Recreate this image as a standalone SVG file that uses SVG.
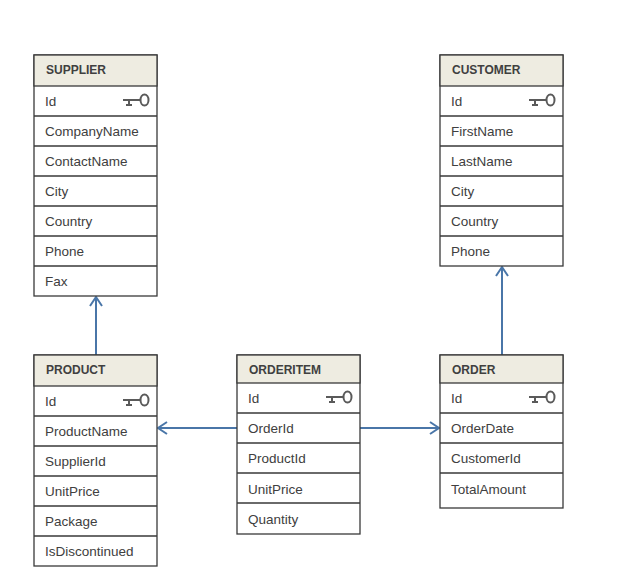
<svg xmlns="http://www.w3.org/2000/svg" width="624" height="577" viewBox="0 0 624 577">
<defs>
<style>
.box{fill:#ffffff;stroke:#3a3a3a;stroke-width:1.3}
.hdr{fill:#eeece1;stroke:#3a3a3a;stroke-width:1.3}
.sep{stroke:#3a3a3a;stroke-width:1.3}
.t{font-family:"Liberation Sans",Arial,sans-serif;font-size:13.5px;fill:#404040}
.h{font-family:"Liberation Sans",Arial,sans-serif;font-size:12px;font-weight:bold;fill:#404040}
.key{fill:none;stroke:#5a5a5a;stroke-width:2}
.conn{stroke:#4a76a8;stroke-width:2;fill:none}
</style>
<marker id="arr" markerWidth="12" markerHeight="14" refX="10" refY="7" orient="auto" markerUnits="userSpaceOnUse">
<path d="M1,1 L10,7 L1,13" fill="none" stroke="#4a76a8" stroke-width="2"/>
</marker>
<g id="keyicon">
<path class="key" d="M0,0 H17 M6,0 V5 M3,5 H9"/>
<ellipse class="key" cx="21.5" cy="0" rx="4" ry="5.5"/>
</g>
</defs>
<rect width="624" height="577" fill="#ffffff"/>

<g id="connectors">
<line class="conn" x1="96" y1="355" x2="96" y2="297" marker-end="url(#arr)"/>
<line class="conn" x1="502" y1="355" x2="502" y2="267" marker-end="url(#arr)"/>
<line class="conn" x1="237" y1="428" x2="158" y2="428" marker-end="url(#arr)"/>
<line class="conn" x1="360" y1="428" x2="439" y2="428" marker-end="url(#arr)"/>
</g>

<g id="supplier">
<rect class="box" x="34" y="55" width="123" height="241"/>
<rect class="hdr" x="34" y="55" width="123" height="31"/>
<path class="sep" d="M34,116H157M34,146H157M34,176H157M34,206H157M34,236H157M34,266H157"/>
<text class="h" x="46" y="74">SUPPLIER</text>
<text class="t" x="45" y="106">Id</text>
<use href="#keyicon" x="123" y="100"/>
<text class="t" x="45" y="136">CompanyName</text>
<text class="t" x="45" y="166">ContactName</text>
<text class="t" x="45" y="196">City</text>
<text class="t" x="45" y="226">Country</text>
<text class="t" x="45" y="256">Phone</text>
<text class="t" x="45" y="286">Fax</text>
</g>

<g id="customer">
<rect class="box" x="440" y="55" width="123" height="211"/>
<rect class="hdr" x="440" y="55" width="123" height="31"/>
<path class="sep" d="M440,116H563M440,146H563M440,176H563M440,206H563M440,236H563"/>
<text class="h" x="452" y="74">CUSTOMER</text>
<text class="t" x="451" y="106">Id</text>
<use href="#keyicon" x="529" y="100"/>
<text class="t" x="451" y="136">FirstName</text>
<text class="t" x="451" y="166">LastName</text>
<text class="t" x="451" y="196">City</text>
<text class="t" x="451" y="226">Country</text>
<text class="t" x="451" y="256">Phone</text>
</g>

<g id="product">
<rect class="box" x="34" y="355" width="123" height="211"/>
<rect class="hdr" x="34" y="355" width="123" height="31"/>
<path class="sep" d="M34,416H157M34,446H157M34,476H157M34,506H157M34,536H157"/>
<text class="h" x="46" y="374">PRODUCT</text>
<text class="t" x="45" y="406">Id</text>
<use href="#keyicon" x="123" y="400"/>
<text class="t" x="45" y="436">ProductName</text>
<text class="t" x="45" y="466">SupplierId</text>
<text class="t" x="45" y="496">UnitPrice</text>
<text class="t" x="45" y="526">Package</text>
<text class="t" x="45" y="556">IsDiscontinued</text>
</g>

<g id="orderitem">
<rect class="box" x="237" y="355" width="123" height="179"/>
<rect class="hdr" x="237" y="355" width="123" height="28"/>
<path class="sep" d="M237,413H360M237,443H360M237,473H360M237,503H360"/>
<text class="h" x="249" y="374">ORDERITEM</text>
<text class="t" x="248" y="403">Id</text>
<use href="#keyicon" x="326" y="397"/>
<text class="t" x="248" y="433">OrderId</text>
<text class="t" x="248" y="463">ProductId</text>
<text class="t" x="248" y="494">UnitPrice</text>
<text class="t" x="248" y="524">Quantity</text>
</g>

<g id="order">
<rect class="box" x="440" y="355" width="123" height="153"/>
<rect class="hdr" x="440" y="355" width="123" height="28"/>
<path class="sep" d="M440,413H563M440,443H563M440,473H563"/>
<text class="h" x="452" y="374">ORDER</text>
<text class="t" x="451" y="403">Id</text>
<use href="#keyicon" x="529" y="397"/>
<text class="t" x="451" y="433">OrderDate</text>
<text class="t" x="451" y="463">CustomerId</text>
<text class="t" x="451" y="494">TotalAmount</text>
</g>
</svg>
